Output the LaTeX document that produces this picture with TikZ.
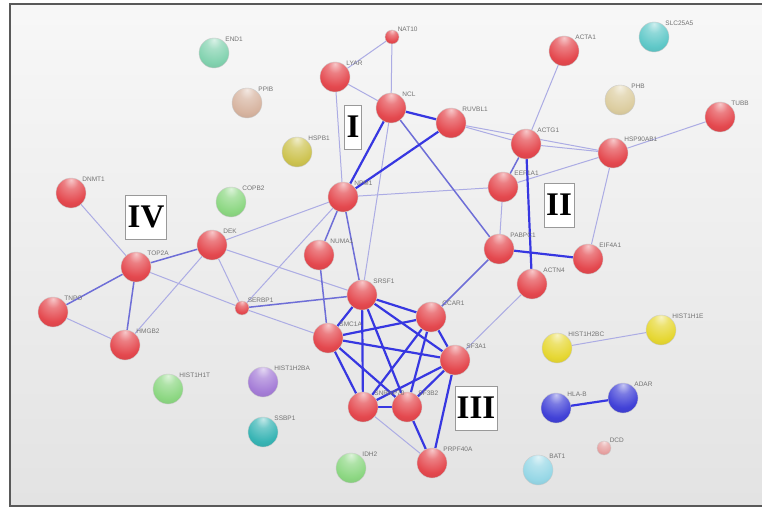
\documentclass[tikz,border=0pt]{standalone}
\usepackage{fontspec}
\setmainfont{Liberation Serif}
\setsansfont{Liberation Sans}
\usetikzlibrary{backgrounds}

\definecolor{strongedge}{RGB}{55,55,225}
\definecolor{midedge}{RGB}{110,110,215}
\definecolor{weakedge}{RGB}{172,172,228}
\definecolor{protred}{RGB}{228,72,78}
\definecolor{protmint}{RGB}{130,210,175}
\definecolor{prottan}{RGB}{215,180,160}
\definecolor{protolive}{RGB}{205,195,80}
\definecolor{protbeige}{RGB}{220,205,160}
\definecolor{protcyan}{RGB}{95,200,200}
\definecolor{protyellow}{RGB}{230,215,50}
\definecolor{protblue}{RGB}{65,65,215}
\definecolor{protpink}{RGB}{230,160,160}
\definecolor{protsky}{RGB}{150,215,230}
\definecolor{protgreen}{RGB}{140,215,130}
\definecolor{protteal}{RGB}{55,180,180}
\definecolor{protpurple}{RGB}{165,125,215}

% glossy sphere, highlight near the top
\makeatletter
\pgfdeclareradialshading[tikz@ball]{sphere}{\pgfqpoint{0bp}{22bp}}{%
	color(0bp)=(tikz@ball!30!white);
	color(12bp)=(tikz@ball!70!white);
	color(30bp)=(tikz@ball);
	color(46bp)=(tikz@ball!88!black);
	color(62bp)=(tikz@ball!68!black);
	color(80bp)=(tikz@ball!60!black)}
\makeatother

\begin{document}
\begin{tikzpicture}[
		x=1pt, y=-1pt,
		protein/.style 2 args={circle, inner sep=0pt, minimum size=30pt, ball color=#1, shading=sphere, draw=black!20, line width=0.4pt, label={[plabel]45:#2}},
		small/.style={minimum size=14pt},
		plabel/.style={font=\sffamily\fontsize{6.5}{7}\selectfont, text=black!55, inner sep=0.5pt},
		numbox/.style={draw=black!40, fill=white, font=\bfseries\fontsize{33}{33}\selectfont, inner sep=2pt, minimum height=44pt},
		weak/.style={draw=weakedge, line width=1pt},
		medium/.style={draw=midedge, line width=1.5pt},
		strong/.style={draw=strongedge, line width=2.2pt}
		]
		\useasboundingbox (0,0) rectangle (762,508);
		
		%==================== Nodes ====================%
		\node[protein={protmint}{END1}] (end1) at (214,53) {};
		\node[protein={prottan}{PPIB}] (ppib) at (247,103) {};
		\node[protein={protolive}{HSPB1}] (hspb1) at (297,152) {};
		\node[protein={protred}{LYAR}] (lyar) at (335,77) {};
		\node[protein={protred}{NAT10}, small] (nat10) at (392,37) {};
		\node[protein={protred}{NCL}] (ncl) at (391,108) {};
		\node[protein={protred}{RUVBL1}] (ruvbl1) at (451,123) {};
		\node[protein={protred}{ACTA1}] (acta1) at (564,51) {};
		\node[protein={protcyan}{SLC25A5}] (slc25a5) at (654,37) {};
		\node[protein={protbeige}{PHB}] (phb) at (620,100) {};
		\node[protein={protred}{TUBB}] (tubb) at (720,117) {};
		\node[protein={protred}{ACTG1}] (actg1) at (526,144) {};
		\node[protein={protred}{HSP90AB1}] (hsp90ab1) at (613,153) {};
		\node[protein={protred}{EEF1A1}] (eef1a1) at (503,187) {};
		\node[protein={protred}{PABPC1}] (pabpc1) at (499,249) {};
		\node[protein={protred}{EIF4A1}] (eif4a1) at (588,259) {};
		\node[protein={protred}{ACTN4}] (actn4) at (532,284) {};
		\node[protein={protred}{CCAR1}] (ccar1) at (431,317) {};
		\node[protein={protyellow}{HIST1H1E}] (hist1h1e) at (661,330) {};
		\node[protein={protyellow}{HIST1H2BC}] (hist1h2bc) at (557,348) {};
		\node[protein={protred}{SF3A1}] (sf3a1) at (455,360) {};
		\node[protein={protblue}{HLA-B}] (hlab) at (556,408) {};
		\node[protein={protblue}{ADAR}] (adar) at (623,398) {};
		\node[protein={protpink}{DCD}, small] (dcd) at (604,448) {};
		\node[protein={protsky}{BAT1}] (bat1) at (538,470) {};
		\node[protein={protred}{PRPF40A}] (prpf40a) at (432,463) {};
		\node[protein={protred}{SF3B2}] (sf3b2) at (407,407) {};
		\node[protein={protred}{SNRNP70}] (snrnp70) at (363,407) {};
		\node[protein={protred}{SMC1A}] (smc1a) at (328,338) {};
		\node[protein={protred}{SRSF1}] (srsf1) at (362,295) {};
		\node[protein={protgreen}{IDH2}] (idh2) at (351,468) {};
		\node[protein={protteal}{SSBP1}] (ssbp1) at (263,432) {};
		\node[protein={protpurple}{HIST1H2BA}] (hist1h2ba) at (263,382) {};
		\node[protein={protgreen}{HIST1H1T}] (hist1h1t) at (168,389) {};
		\node[protein={protred}{HMGB2}] (hmgb2) at (125,345) {};
		\node[protein={protred}{TNPO}] (tnpo) at (53,312) {};
		\node[protein={protred}{TOP2A}] (top2a) at (136,267) {};
		\node[protein={protred}{DEK}] (dek) at (212,245) {};
		\node[protein={protred}{SERBP1}, small] (serbp1) at (242,308) {};
		\node[protein={protred}{DNMT1}] (dnmt1) at (71,193) {};
		\node[protein={protgreen}{COPB2}] (copb2) at (231,202) {};
		\node[protein={protred}{NPM1}] (npm1) at (343,197) {};
		\node[protein={protred}{NUMA1}] (numa1) at (319,255) {};
		
		% cluster labels
		\node[numbox] (boxI) at (353,127) {I};
		\node[numbox] (boxII) at (559,205) {II};
		\node[numbox] (boxIII) at (476,408) {III};
		\node[numbox] (boxIV) at (146,217) {IV};
		
		\begin{scope}[on background layer]
		% panel
		\shade[top color=black!3, bottom color=black!11] (10,4) rectangle (762,506);
		\draw[black!65, line width=1.6pt] (762,4) -- (10,4) -- (10,506) -- (762,506);
		
		%==================== Edges ====================%
		\draw[weak] (nat10) -- (lyar);
		\draw[weak] (nat10) -- (ncl);
		\draw[weak] (lyar) -- (ncl);
		\draw[weak] (lyar) -- (npm1);
		\draw[weak] (ncl) -- (srsf1);
		\draw[weak] (ruvbl1) -- (actg1);
		\draw[weak] (ruvbl1) -- (hsp90ab1);
		\draw[weak] (acta1) -- (actg1);
		\draw[weak] (actg1) -- (hsp90ab1);
		\draw[weak] (tubb) -- (hsp90ab1);
		\draw[weak] (hsp90ab1) -- (eef1a1);
		\draw[weak] (hsp90ab1) -- (eif4a1);
		\draw[weak] (eef1a1) -- (pabpc1);
		\draw[weak] (npm1) -- (eef1a1);
		\draw[weak] (actn4) -- (sf3a1);
		\draw[weak] (hist1h2bc) -- (hist1h1e);
		\draw[weak] (npm1) -- (dek);
		\draw[weak] (npm1) -- (serbp1);
		\draw[weak] (dek) -- (serbp1);
		\draw[weak] (dek) -- (hmgb2);
		\draw[weak] (dek) -- (srsf1);
		\draw[weak] (top2a) -- (dnmt1);
		\draw[weak] (top2a) -- (serbp1);
		\draw[weak] (tnpo) -- (hmgb2);
		\draw[weak] (serbp1) -- (smc1a);
		\draw[weak] (snrnp70) -- (prpf40a);
		
		\draw[medium] (ncl) -- (pabpc1);
		\draw[medium] (actg1) -- (eef1a1);
		\draw[medium] (pabpc1) -- (ccar1);
		\draw[medium] (npm1) -- (numa1);
		\draw[medium] (npm1) -- (srsf1);
		\draw[medium] (numa1) -- (smc1a);
		\draw[medium] (dek) -- (top2a);
		\draw[medium] (top2a) -- (tnpo);
		\draw[medium] (top2a) -- (hmgb2);
		\draw[medium] (serbp1) -- (srsf1);
		
		\draw[strong] (ncl) -- (ruvbl1);
		\draw[strong] (ncl) -- (npm1);
		\draw[strong] (ruvbl1) -- (npm1);
		\draw[strong] (actg1) -- (actn4);
		\draw[strong] (pabpc1) -- (eif4a1);
		\draw[strong] (hlab) -- (adar);
		
		% splicing cluster
		\draw[strong] (srsf1) -- (smc1a);
		\draw[strong] (srsf1) -- (ccar1);
		\draw[strong] (srsf1) -- (sf3a1);
		\draw[strong] (srsf1) -- (snrnp70);
		\draw[strong] (srsf1) -- (sf3b2);
		\draw[strong] (smc1a) -- (ccar1);
		\draw[strong] (smc1a) -- (sf3a1);
		\draw[strong] (smc1a) -- (snrnp70);
		\draw[strong] (smc1a) -- (sf3b2);
		\draw[strong] (ccar1) -- (sf3a1);
		\draw[strong] (ccar1) -- (snrnp70);
		\draw[strong] (ccar1) -- (sf3b2);
		\draw[strong] (sf3a1) -- (snrnp70);
		\draw[strong] (sf3a1) -- (sf3b2);
		\draw[strong] (sf3a1) -- (prpf40a);
		\draw[strong] (snrnp70) -- (sf3b2);
		\draw[strong] (sf3b2) -- (prpf40a);
		\end{scope}
		
	\end{tikzpicture}
\end{document}
